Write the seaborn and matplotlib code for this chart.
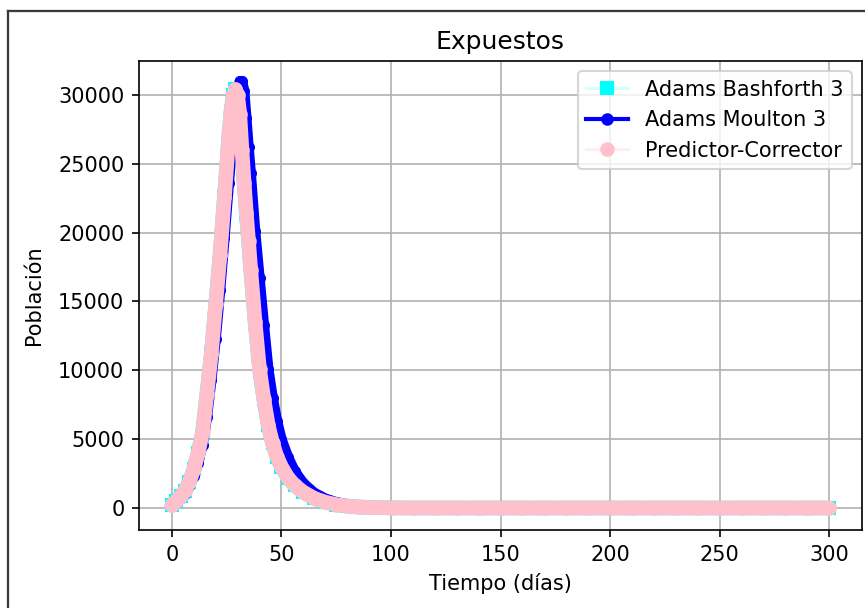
import matplotlib
matplotlib.use("Agg")
import matplotlib.pyplot as plt
import seaborn as sns
from matplotlib.lines import Line2D

# ---- data ----
dias = [0, 2, 4, 6, 8, 10, 12, 14, 16, 18, 20, 22, 24, 26,
        27, 28, 29, 30, 31, 32, 33, 34, 35, 36,
        38, 40, 42, 44, 46, 48, 50,
        53, 56, 60, 65, 70, 75, 80, 85, 90,
        100, 110, 120, 130, 140, 150, 160, 170, 180, 190, 200,
        210, 220, 230, 240, 250, 260, 270, 280, 290, 300]

adams_bashforth = [200, 500, 850, 1250, 1900, 2800, 4000, 5500, 8300, 11200, 14800, 18400, 22600, 27000,
                   28800, 30000, 30400, 30000, 28600, 26000, 23600, 21400, 19400, 17300,
                   13500, 10100, 7900, 6000, 4700, 3700, 3000,
                   2200, 1650, 1150, 700, 420, 250, 140, 80, 40,
                   10, 0, 0, 0, 0, 0, 0, 0, 0, 0, 0,
                   0, 0, 0, 0, 0, 0, 0, 0, 0, 0]

adams_moulton = [200, 400, 700, 1050, 1600, 2300, 3300, 4600, 6600, 9300, 12300, 15800, 19600, 23600,
                 25500, 27400, 29000, 30300, 31000, 31000, 30300, 28300, 26200, 24300,
                 20100, 16700, 13300, 10100, 8000, 6300, 5000,
                 3700, 2700, 1800, 1100, 680, 420, 260, 150, 80,
                 25, 0, 0, 0, 0, 0, 0, 0, 0, 0, 0,
                 0, 0, 0, 0, 0, 0, 0, 0, 0, 0]

predictor_corrector = [200, 500, 850, 1250, 1900, 2800, 4000, 5500, 8300, 11200, 14800, 18400, 22600, 27000,
                       28800, 30000, 30400, 30000, 28600, 26000, 23600, 21400, 19400, 17300,
                       13500, 10100, 7900, 6000, 4700, 3700, 3000,
                       2200, 1650, 1150, 700, 420, 250, 140, 80, 40,
                       10, 0, 0, 0, 0, 0, 0, 0, 0, 0, 0,
                       0, 0, 0, 0, 0, 0, 0, 0, 0, 0]

labels = ["Adams Bashforth 3", "Adams Moulton 3", "Predictor-Corrector"]
x_ticks = [0, 50, 100, 150, 200, 250, 300]
y_ticks = [0, 5000, 10000, 15000, 20000, 25000, 30000]

# ---- figure ----
DPI = 150
fig = plt.figure(figsize=(865 / DPI, 608 / DPI), dpi=DPI)
ax = fig.add_axes([139 / 865, 1 - 530 / 608, (862 - 139) / 865, (530 - 61) / 608])

band = dict(solid_capstyle="round", solid_joinstyle="round")

# Adams Bashforth 3 (cyan squares)
sns.lineplot(x=dias, y=adams_bashforth, ax=ax, color="cyan", linewidth=7, **band)
sns.lineplot(x=dias, y=adams_bashforth, ax=ax, color="cyan", linestyle="none",
             marker="s", markersize=6, markerfacecolor="cyan", markeredgecolor="cyan",
             markeredgewidth=1)

# Adams Moulton 3 (blue line with circles)
sns.lineplot(x=dias, y=adams_moulton, ax=ax, color="blue", linewidth=5, **band)
sns.lineplot(x=dias, y=adams_moulton, ax=ax, color="blue", linewidth=2,
             marker="o", markersize=4.3, markerfacecolor="blue", markeredgecolor="blue",
             markeredgewidth=1)

# Predictor-Corrector (pink circles)
sns.lineplot(x=dias, y=predictor_corrector, ax=ax, color="pink", linewidth=7, **band)
sns.lineplot(x=dias, y=predictor_corrector, ax=ax, color="pink", linestyle="none",
             marker="o", markersize=6, markerfacecolor="pink", markeredgecolor="pink",
             markeredgewidth=1)

ax.set_xlim(-15, 315)
ax.set_ylim(-1600, 32470)
ax.set_xticks(x_ticks)
ax.set_yticks(y_ticks)
ax.grid(True, color="#b0b0b0", linewidth=0.8)
ax.set_axisbelow(True)
ax.set_title("Expuestos", fontsize=12)
ax.set_xlabel("Tiempo (días)", fontsize=10)
ax.set_ylabel("Población", fontsize=10, labelpad=7)
ax.tick_params(labelsize=10)

handles = [
    Line2D([], [], color="#d8ffff", linewidth=1.5, marker="s", markersize=6,
           markerfacecolor="cyan", markeredgecolor="cyan", markeredgewidth=1),
    Line2D([], [], color="blue", linewidth=2, marker="o", markersize=5,
           markerfacecolor="blue", markeredgecolor="blue", markeredgewidth=1),
    Line2D([], [], color="#ffeef1", linewidth=1.5, marker="o", markersize=6,
           markerfacecolor="pink", markeredgecolor="pink", markeredgewidth=1),
]
ax.legend(handles, labels, loc="upper right", fontsize=10)

# outer screenshot frame
fig.add_artist(Line2D([8 / 865, 8 / 865], [0, 1 - 11 / 608], transform=fig.transFigure,
                      color="#3a3a3a", linewidth=1.1))
fig.add_artist(Line2D([8 / 865, 1], [1 - 11 / 608, 1 - 11 / 608], transform=fig.transFigure,
                      color="#3a3a3a", linewidth=1.1))

fig.savefig("out.png", dpi=DPI)
